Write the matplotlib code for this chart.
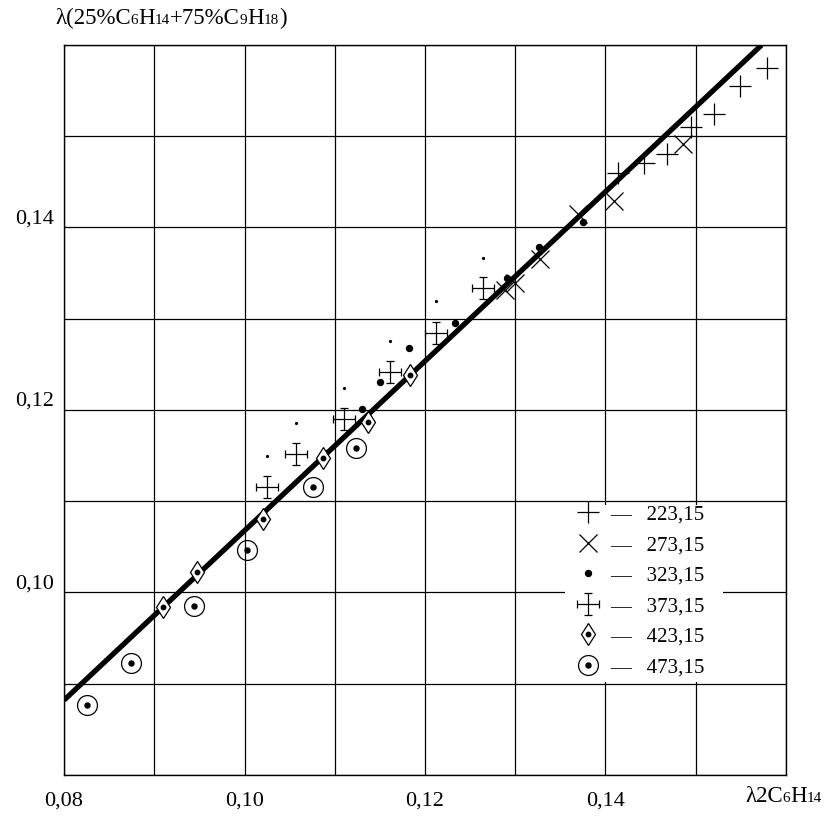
import numpy as np
import matplotlib.pyplot as plt
from matplotlib.path import Path
from matplotlib.patches import Rectangle
from matplotlib.transforms import ScaledTranslation
from matplotlib.offsetbox import TextArea, HPacker, AnnotationBbox

plt.rcParams['font.family'] = ['Liberation Serif', 'DejaVu Serif']

# data (x = λ of C6H14, y = λ of the mixture)
t223_x = [0.14142, 0.1443, 0.14678, 0.14947, 0.15206, 0.15494, 0.15786]
t223_y = [0.14594, 0.14704, 0.14802, 0.15101, 0.15244, 0.15551, 0.15745]

t273_x = [0.12887, 0.1300, 0.13274, 0.13690, 0.14098, 0.14855]
t273_y = [0.13315, 0.13389, 0.13651, 0.14150, 0.14290, 0.14915]

t323_x = [0.11302, 0.11501, 0.11826, 0.12332, 0.12905, 0.13263, 0.13754]
t323_y = [0.12011, 0.12303, 0.12683, 0.12957, 0.13450, 0.13783, 0.14064]

t373_x = [0.10246, 0.10571, 0.11102, 0.11612, 0.12119, 0.12646]
t373_y = [0.11160, 0.11515, 0.11901, 0.12420, 0.12840, 0.13333]

t423_x = [0.09100, 0.09477, 0.10209, 0.10873, 0.11372, 0.11834]
t423_y = [0.09838, 0.10228, 0.10802, 0.11471, 0.11872, 0.12384]

t473_x = [0.08258, 0.08742, 0.09444, 0.10024, 0.10763, 0.11232]
t473_y = [0.08767, 0.09231, 0.09855, 0.10466, 0.11153, 0.11584]

# small stray dots above the 373,15 points
stray_x = [0.10246, 0.10571, 0.11102, 0.11612, 0.12119, 0.12646]
stray_y = [0.11500, 0.11860, 0.12240, 0.12760, 0.13190, 0.13670]

fit_x = [0.080, 0.1573]
fit_y = [0.0882, 0.1600]

temps = ['223,15', '273,15', '323,15', '373,15', '423,15', '473,15']
xtick_labels = ['0,08', '', '0,10', '', '0,12', '', '0,14', '', '']
ytick_labels = ['', '', '0,10', '', '0,12', '', '0,14', '', '']

# error-bar like cross marker
c = 0.32
verts = [(-1, 0), (1, 0), (0, -1), (0, 1),
         (-1, -c), (-1, c), (1, -c), (1, c),
         (-c, 1), (c, 1), (-c, -1), (c, -1)]
codes = [Path.MOVETO, Path.LINETO] * 6
errcross = Path(verts, codes)

fig = plt.figure(figsize=(8.25, 8.16), dpi=100)
ax = fig.add_axes([64 / 825, 41 / 816, 722 / 825, 730 / 816])

ticks = np.round(np.arange(0.08, 0.1601, 0.01), 2)
ax.set_xlim(0.08, 0.16)
ax.set_ylim(0.08, 0.16)
ax.set_xticks(ticks, xtick_labels)
ax.set_yticks(ticks, ytick_labels)
ax.tick_params(length=0, labelsize=16)
ax.tick_params(axis='x', pad=12)
ax.tick_params(axis='y', pad=7)
up = ScaledTranslation(0, 4 / 100, fig.dpi_scale_trans)
for lab in ax.get_yticklabels():
    lab.set_va('baseline')
    lab.set_transform(lab.get_transform() + up)
ax.grid(True, color='black', lw=0.9)
ax.set_axisbelow(True)
for s in ax.spines.values():
    s.set_linewidth(1.0)

ax.plot(fit_x, fit_y, color='black', lw=3.8, solid_capstyle='butt', zorder=3)

k = dict(color='black', ls='none', zorder=4)
h1, = ax.plot(t223_x, t223_y, marker='+', ms=16, mew=0.9, **k)
h2, = ax.plot(t273_x, t273_y, marker='x', ms=13, mew=0.9, **k)
h3, = ax.plot(t323_x, t323_y, marker='o', ms=4.3, **k)
h4, = ax.plot(t373_x, t373_y, marker=errcross, ms=16, mew=0.9, mfc='none', **k)
h5a, = ax.plot(t423_x, t423_y, marker='d', ms=11.3, mew=0.9, mfc='white', **k)
h5b, = ax.plot(t423_x, t423_y, marker='o', ms=3.2, **k)
h6a, = ax.plot(t473_x, t473_y, marker='o', ms=14.3, mew=0.9, mfc='none', **k)
h6b, = ax.plot(t473_x, t473_y, marker='o', ms=3.6, **k)
ax.plot(stray_x, stray_y, marker='o', ms=1.3, **k)

# white area behind the legend hides the grid there
ax.add_patch(Rectangle(((565 - 64) / 722, (775 - 682) / 730), 158 / 722, 177 / 730,
                       transform=ax.transAxes, facecolor='white', edgecolor='none',
                       zorder=1))

leg = ax.legend([h1, h2, h3, h4, (h5a, h5b), (h6a, h6b)],
                ['\u2014   ' + t for t in temps],
                loc='upper left', bbox_to_anchor=((575 - 64) / 722, (775 - 505) / 730),
                borderaxespad=0, frameon=False, fontsize=15,
                handlelength=1.2, handletextpad=0.5, labelspacing=0.525,
                borderpad=0, numpoints=1)
leg.set_zorder(5)


def rich_label(parts, xy, align):
    areas = [TextArea(s, textprops=dict(fontsize=fs, color='black')) for s, fs in parts]
    box = HPacker(children=areas, align='baseline', pad=0, sep=0)
    ab = AnnotationBbox(box, xy, xycoords='figure fraction', box_alignment=align,
                        frameon=False, pad=0)
    fig.add_artist(ab)


rich_label([('λ(25%C', 16.5), ('6', 11), ('H', 16.5), ('14', 11), ('+75%C', 16.5),
            ('9', 11), ('H', 16.5), ('18', 11), (')', 16.5)],
           (55 / 825, 1 - 18 / 816), (0, 0.5))
rich_label([('λ2C', 16.5), ('6', 11), ('H', 16.5), ('14', 11)],
           (745 / 825, 1 - 797 / 816), (0, 0.5))

fig.savefig('out.png', dpi=100)
